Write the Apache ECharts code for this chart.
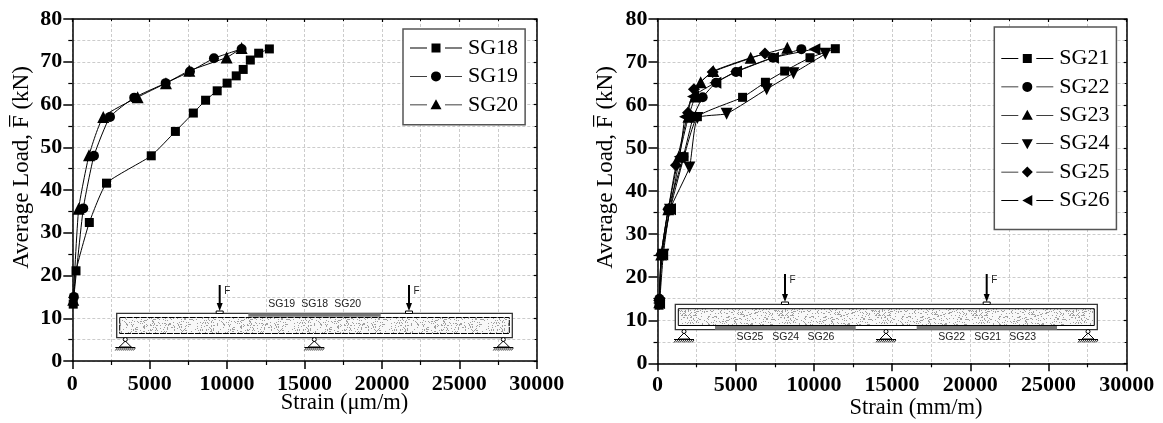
<!DOCTYPE html>
<html><head><meta charset="utf-8">
<style>html,body{margin:0;padding:0;background:#fff}#c{width:1163px;height:423px}</style>
<script src="https://cdn.jsdelivr.net/npm/echarts@6/dist/echarts.min.js"></script>
</head><body><div id="c"></div>
<script>
const SG18 = [[60,13.3],[240,21.1],[1100,32.4],[2210,41.6],[5100,48],[6660,53.7],[7820,58],[8610,61],[9360,63.2],[10000,65],[10590,66.7],[11040,68.2],[11500,70.4],[12040,72],[12730,73]];
const SG19 = [[100,15],[710,35.7],[1400,48],[2435,57.1],[4000,61.6],[6030,65],[7600,67.7],[9150,70.8],[10940,73]];
const SG20 = [[60,14.3],[410,35.6],[1080,48.1],[2000,57.1],[4220,61.7],[6050,65],[7560,67.9],[9970,71],[10940,73.2]];
const SG21 = [[100,13.5],[270,25.3],[800,35.7],[1700,48],[2550,57.3],[5440,61.8],[6900,65.3],[8130,67.9],[9750,71],[11370,73.1]];
const SG22 = [[120,15],[240,25.3],[690,35.8],[1650,48],[2290,57.3],[2890,61.8],[3740,65.2],[5020,67.7],[7380,71],[9200,73]];
const SG23 = [[110,14.2],[240,25.3],[690,35.8],[1360,48],[1980,57.3],[2400,62],[2760,65.3],[3570,67.9],[5960,71],[8300,73.3]];
const SG24 = [[130,13.8],[370,25.2],[800,35.7],[2040,45.5],[2550,57],[4420,58],[6980,63.7],[8690,67.4],[10730,71.9]];
const SG25 = [[110,14.6],[240,25.3],[690,35.8],[1180,46],[1950,58.2],[2330,63.7],[3530,67.7],[6870,72]];
const SG26 = [[100,14],[300,25.3],[800,35.8],[1420,48],[1760,57.3],[2270,62],[3700,65.2],[5020,67.8],[7380,71],[10030,73]];
const leftNames = ['SG18','SG19','SG20'];
const rightNames = ['SG21','SG22','SG23','SG24','SG25','SG26'];
const leftValues = [SG18,SG19,SG20];
const rightValues = [SG21,SG22,SG23,SG24,SG25,SG26];
const xTitleLeft = 'Strain (\u03BCm/m)';
const xTitleRight = 'Strain (mm/m)';
const yTitle = 'Average Load, F\u0305 (kN)';

const SERIF = '"Liberation Serif","Times New Roman",serif';
const SANS = '"Liberation Sans",Arial,sans-serif';
const marks = {
  square:{symbol:'rect',size:9,rot:0},
  circle:{symbol:'circle',size:10,rot:0},
  up:{symbol:'triangle',size:12,rot:0},
  down:{symbol:'triangle',size:12,rot:180},
  diamond:{symbol:'diamond',size:12,rot:0},
  left:{symbol:'triangle',size:12,rot:90}
};
const markOrder = ['square','circle','up','down','diamond','left'];
const leftMarks = ['square','circle','up'];
const dash = 'M0 0L0.01 0ZM52 12L52 11.99ZM0 5.6H17V6.4H0ZM35 5.6H52V6.4H35Z';
const iconShape = {
  square:'M21.5 1.5H30.5V10.5H21.5Z',
  circle:'M26 1A5 5 0 1 1 25.99 1Z',
  up:'M26 0.5L31.5 10.5H20.5Z',
  down:'M26 11.5L31.5 1.5H20.5Z',
  diamond:'M26 0.5L31.5 6L26 11.5L20.5 6Z',
  left:'M21 6L31 0.5V11.5Z'
};
const icon = k => 'path://' + dash + iconShape[k];

function axes(gi,xMargin){
  const gridLine = {show:true,lineStyle:{color:'#cccccc',type:[3,2],width:1}};
  const baseX = {gridIndex:gi,type:'value',min:0,max:30000,interval:5000};
  const baseY = {gridIndex:gi,type:'value',min:0,max:80,interval:10};
  const lab = {show:true,color:'#000',fontFamily:SERIF,fontWeight:'bold',fontSize:22};
  const al = {show:true,onZero:false,lineStyle:{color:'#000',width:1.5}};
  return {
    x:[Object.assign({},baseX,{position:'bottom',axisLine:al,
        axisTick:{show:true,length:8,lineStyle:{color:'#000',width:1.5}},
        minorTick:{show:true,splitNumber:2,length:4,lineStyle:{color:'#000',width:1.2}},
        splitLine:gridLine,minorSplitLine:gridLine,axisLabel:Object.assign({},lab,{margin:xMargin,hideOverlap:false,showMaxLabel:true,showMinLabel:true,formatter:v=>String(v)})}),
       Object.assign({},baseX,{position:'top',axisLine:al,
        axisTick:{show:true,inside:true,length:3,lineStyle:{color:'#000',width:1.2}},
        minorTick:{show:true,splitNumber:2,length:2,lineStyle:{color:'#000',width:1}},
        splitLine:{show:false},axisLabel:{show:false}})],
    y:[Object.assign({},baseY,{position:'left',axisLine:al,
        axisTick:{show:true,length:9,lineStyle:{color:'#000',width:1.5}},
        minorTick:{show:true,splitNumber:2,length:4,lineStyle:{color:'#000',width:1.2}},
        splitLine:gridLine,minorSplitLine:gridLine,axisLabel:Object.assign({},lab,{margin:10})}),
       Object.assign({},baseY,{position:'right',axisLine:al,
        axisTick:{show:true,inside:true,length:3,lineStyle:{color:'#000',width:1.2}},
        minorTick:{show:true,splitNumber:2,length:2,lineStyle:{color:'#000',width:1}},
        splitLine:{show:false},axisLabel:{show:false}})]
  };
}
const a0 = axes(0,12.5), a1 = axes(1,11);

function mkSeries(names,values,mk,gi){
  return names.map((n,i)=>{
    const m = marks[mk[i]];
    return {name:n,type:'line',xAxisIndex:gi*2,yAxisIndex:gi*2,data:values[i],smooth:0.15,
      symbol:m.symbol,symbolSize:m.size,symbolRotate:m.rot,showSymbol:true,clip:false,
      lineStyle:{color:'#000',width:1},itemStyle:{color:'#000'},animation:false,z:3};
  });
}
function mkLegend(names,mk,left,top,pad){
  return {orient:'vertical',left:left,top:top,padding:pad,
    itemWidth:52,itemHeight:12,itemGap:6.4,selectedMode:false,
    backgroundColor:'#fff',borderColor:'#555',borderWidth:1.5,borderRadius:0,z:5,
    textStyle:{fontFamily:SERIF,fontSize:22,lineHeight:22,color:'#000',padding:[0,0,0,1]},
    itemStyle:{color:'#000',borderWidth:0},
    data:names.map((n,i)=>({name:n,icon:icon(mk[i])}))};
}

function stipple(){
  const c = document.createElement('canvas'); c.width=c.height=97;
  const g = c.getContext('2d'); g.fillStyle='#f8f8f8'; g.fillRect(0,0,97,97);
  g.fillStyle='#a0a0a0';
  for(let y=0;y<97;y++) for(let x=0;x<97;x++){
    const h=Math.abs(Math.sin(x*12.9898+y*78.233)*43758.5453)%1;
    if(h<0.17) g.fillRect(x,y,1,1);
  }
  return c;
}
const pat = {image:stipple(),repeat:'repeat'};

function hatch(sx,y){
  const c = [];
  for(let i=0;i<20;i+=2) c.push({type:'line',shape:{x1:sx-10+i,y1:y+12.5,x2:sx-8+i,y2:y+10},style:{stroke:'#222',lineWidth:1}});
  return c;
}
function beam(o){
  const els=[];
  const blk={stroke:'#000',fill:'none',lineWidth:1};
  els.push({type:'rect',shape:{x:o.x0,y:o.y0,width:o.x1-o.x0,height:o.y1-o.y0},style:{fill:'#fff',stroke:'#333',lineWidth:1.3}});
  els.push({type:'rect',shape:{x:o.x0+3,y:o.iy0,width:o.x1-o.x0-6,height:o.iy1-o.iy0},style:{fill:pat,stroke:'#000',lineWidth:1,lineDash:o.dash}});
  o.strips.forEach(s=>els.push({type:'rect',shape:{x:s[0],y:o.sy,width:s[1]-s[0],height:o.sh},style:{fill:'#777'}}));
  o.forces.forEach(fx=>{
    els.push({type:'rect',shape:{x:fx-3.5,y:o.ay1,width:7,height:o.pad},style:{fill:'#fff',stroke:'#000',lineWidth:1}});
    els.push({type:'line',shape:{x1:fx,y1:o.ay0,x2:fx,y2:o.ay1-6},style:{stroke:'#000',lineWidth:2}});
    els.push({type:'polygon',shape:{points:[[fx-3,o.ay1-8],[fx+3,o.ay1-8],[fx,o.ay1]]},style:{fill:'#000'}});
    els.push({type:'text',x:fx+4.5,y:o.ay0+1,style:{text:'F',fill:'#222',font:'10px '+SANS}});
  });
  o.labels.forEach(l=>els.push({type:'text',x:l[1],y:o.ly,style:{text:l[0],fill:'#222',font:'10.5px '+SANS,textAlign:'center',textVerticalAlign:'middle'}}));
  o.supports.forEach(sx=>{
    const y=o.spy;
    els.push({type:'circle',shape:{cx:sx,cy:y+1.5,r:2},style:{fill:'#fff',stroke:'#000',lineWidth:1}});
    els.push({type:'polygon',shape:{points:[[sx,y+3],[sx-6,y+9],[sx+6,y+9]]},style:blk});
    els.push({type:'line',shape:{x1:sx-10,y1:y+9.5,x2:sx+10,y2:y+9.5},style:{stroke:'#000',lineWidth:1}});
    els.push(...hatch(sx,y));
  });
  return els;
}
const diagramLeft = beam({x0:116.7,x1:512.3,y0:313.3,y1:337.7,iy0:317.5,iy1:333.5,dash:[6,1],
  strips:[[248.3,380.7]],sy:313.3,sh:3.5,forces:[219.7,409],ay0:285,ay1:311,pad:2.5,
  labels:[['SG19',281.7],['SG18',314.7],['SG20',347.7]],ly:304.5,supports:[125.3,314.3,503.3],spy:338});
const diagramRight = beam({x0:675.3,x1:1097.3,y0:304.3,y1:329.7,iy0:308.7,iy1:325.5,dash:null,
  strips:[[715,855.7],[916.7,1057]],sy:326,sh:3.7,forces:[785,986.7],ay0:274,ay1:302,pad:2.5,
  labels:[['SG25',750],['SG24',785.7],['SG26',821],['SG22',951.7],['SG21',987.7],['SG23',1022.7]],ly:337,supports:[684,886,1088],spy:330});

const titles = [
  {type:'text',x:344.5,y:403,style:{text:xTitleLeft,fill:'#000',font:'22.5px '+SERIF,textAlign:'center',textVerticalAlign:'middle'}},
  {type:'text',x:916,y:408,style:{text:xTitleRight,fill:'#000',font:'22.5px '+SERIF,textAlign:'center',textVerticalAlign:'middle'}},
  {type:'text',x:22,y:167.5,rotation:Math.PI/2,style:{text:yTitle,fill:'#000',font:'23px '+SERIF,textAlign:'center',textVerticalAlign:'middle'}},
  {type:'text',x:606,y:167.5,rotation:Math.PI/2,style:{text:yTitle,fill:'#000',font:'23px '+SERIF,textAlign:'center',textVerticalAlign:'middle'}}
];

const chart = echarts.init(document.getElementById('c'),null,{renderer:'canvas'});
chart.setOption({
  animation:false,backgroundColor:'#fff',
  grid:[{left:72.3,top:19,width:464.4,height:342,containLabel:false},
        {left:657.5,top:19,width:469.2,height:344.3,containLabel:false}],
  xAxis:[...a0.x,...a1.x],
  yAxis:[...a0.y,...a1.y],
  legend:[mkLegend(leftNames,leftMarks,403,29,[8,7,9,7]),mkLegend(rightNames,markOrder,994.3,27,[20.5,7,18,7])],
  series:[...mkSeries(leftNames,leftValues,leftMarks,0),...mkSeries(rightNames,rightValues,markOrder,1)],
  graphic:{elements:[...diagramLeft,...diagramRight,...titles].map(e=>Object.assign({silent:true,z:4},e))}
});
</script></body></html>
